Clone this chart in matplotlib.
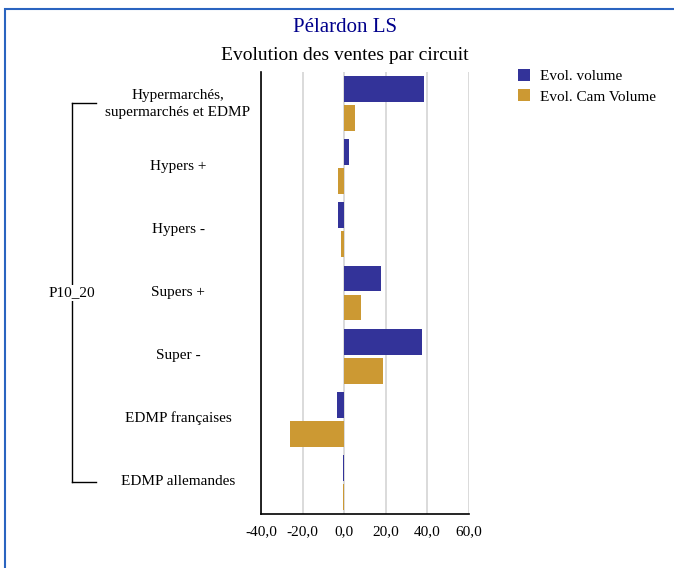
import numpy as np
import matplotlib.pyplot as plt
from matplotlib.patches import Rectangle
from matplotlib.lines import Line2D

plt.rcParams['font.family'] = ['Liberation Serif', 'DejaVu Serif']

categories = ["Hypermarchés,\nsupermarchés et EDMP", "Hypers +", "Hypers -",
              "Supers +", "Super -", "EDMP françaises", "EDMP allemandes"]
evol_volume = [38.5, 2.4, -2.9, 17.8, 37.6, -3.4, -0.6]
evol_cam = [5.3, -2.9, -1.5, 8.2, 18.8, -26.0, -0.6]
series_names = ["Evol. volume", "Evol. Cam Volume"]
xticks = [-40, -20, 0, 20, 40, 60]
group_label = "P10_20"

blue = "#333399"
gold = "#CC9933"

W, H = 674, 568
fig = plt.figure(figsize=(W / 100, H / 100), dpi=100)
ax = fig.add_axes([261 / W, 1 - 514 / H, (468.5 - 261) / W, (514 - 72) / H])

y = np.arange(len(categories))
h = 0.41
ax.barh(y - 0.23, evol_volume, height=h, color=blue, label=series_names[0])
ax.barh(y + 0.23, evol_cam, height=h, color=gold, label=series_names[1])

ax.set_ylim(len(categories) - 0.5, -0.5)
ax.set_xlim(-40, 60)
ax.set_xticks(xticks)
ax.set_xticklabels([f"{v:.1f}".replace(".", ",") for v in xticks], fontsize=11)
ax.tick_params(axis='x', length=0, pad=8)
ax.set_yticks([])
ax.set_axisbelow(True)
ax.xaxis.grid(True, color="#d4d4d4", linewidth=1.2)
for s in ['top', 'right']:
    ax.spines[s].set_visible(False)
ax.spines['left'].set_linewidth(1.2)
ax.spines['bottom'].set_linewidth(1.2)

# category labels
for i, c in enumerate(categories):
    fig.text(178 / W, 1 - (72 + 63 * (i + 0.5)) / H, c, ha='center', va='center',
             fontsize=11, linespacing=1.4)

# group bracket
bx = 72 / W
ytop = 1 - 103 / H
ybot = 1 - 482 / H
fig.add_artist(Line2D([bx, bx], [ybot, ytop], color='black', lw=1))
fig.add_artist(Line2D([bx, 96 / W], [ytop, ytop], color='black', lw=1))
fig.add_artist(Line2D([bx, 96 / W], [ybot, ybot], color='black', lw=1))
fig.text(bx, 1 - 293 / H, group_label, ha='center', va='center', fontsize=11,
         bbox=dict(facecolor='white', edgecolor='none', pad=1))

# titles
fig.text(345 / W, 1 - 28 / H, "Pélardon LS", ha='center', va='center',
         fontsize=15, color='#00008B')
fig.text(345 / W, 1 - 56 / H, "Evolution des ventes par circuit", ha='center',
         va='center', fontsize=14)

# legend
fig.legend(loc='upper left', bbox_to_anchor=(512 / W, 1 - 63 / H), frameon=False,
           fontsize=11, handlelength=0.8, handleheight=0.8, handletextpad=0.6,
           labelspacing=0.4, borderaxespad=0)

# border
fig.add_artist(Rectangle((5 / W, -0.1), 1.0, 1 - 9 / H + 0.1, transform=fig.transFigure,
                         fill=False, edgecolor='#2a64c0', lw=1.5))

fig.savefig("out.png", dpi=100)
